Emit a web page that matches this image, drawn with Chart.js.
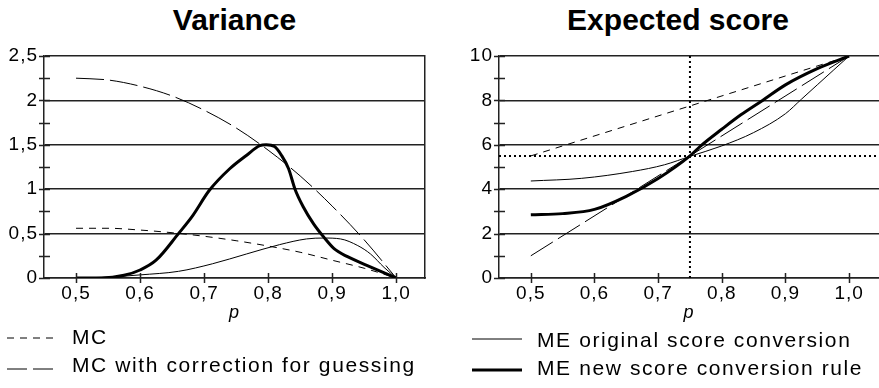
<!DOCTYPE html>
<html>
<head>
<meta charset="utf-8">
<script src="https://cdn.jsdelivr.net/npm/chart.js@4"></script>
<style>
  body { margin: 0; background: #fff; width: 879px; height: 388px; overflow: hidden; position: relative; font-family: "Liberation Sans", Arial, sans-serif; color: #000; }
  canvas { position: absolute; top: 0; }
  .title { position: absolute; top: 2px; font-size: 30px; font-weight: bold; line-height: 36px; text-align: center; }
  .leg { position: absolute; font-size: 21px; line-height: 26px; letter-spacing: 1.6px; white-space: nowrap; }
  svg { position: absolute; }
</style>
</head>
<body>
<div class="title" style="left:44px; width:381px;">Variance</div>
<div class="title" style="left:440px; width:476px;">Expected score</div>
<canvas id="varChart" width="440" height="326" style="left:0"></canvas>
<canvas id="scoreChart" width="439" height="326" style="left:440px"></canvas>

<svg style="left:0; top:320px" width="879" height="68">
  <line x1="7" y1="18" x2="53" y2="18" stroke="#000" stroke-width="1" stroke-dasharray="7,6"/>
  <line x1="7" y1="49" x2="53" y2="49" stroke="#000" stroke-width="1" stroke-dasharray="20,6"/>
  <line x1="472" y1="19" x2="522" y2="19" stroke="#000" stroke-width="1"/>
  <line x1="472" y1="50" x2="522" y2="50" stroke="#000" stroke-width="3"/>
</svg>
<div class="leg" style="left:72px; top:324px;">MC</div>
<div class="leg" style="left:72px; top:352px;">MC with correction for guessing</div>
<div class="leg" style="left:537px; top:327px;">ME original score conversion</div>
<div class="leg" style="left:537px; top:355px;">ME new score conversion rule</div>

<script>
// --- data ---
const xTicks = [0.5, 0.6, 0.7, 0.8, 0.9, 1.0];

// Variance panel
const varTicks = [0, 0.25, 0.5, 0.75, 1, 1.25, 1.5, 1.75, 2, 2.25, 2.5];
const varMajor = [0, 0.5, 1, 1.5, 2, 2.5];
const pVarMC = [0.5, 0.55, 0.6, 0.65, 0.7, 0.75, 0.8, 0.85, 0.9, 0.95, 1.0];
const varMC = [0.56, 0.56, 0.54, 0.51, 0.47, 0.42, 0.36, 0.29, 0.2, 0.11, 0];
const varMCcorr = [2.25, 2.23, 2.16, 2.05, 1.89, 1.69, 1.44, 1.15, 0.81, 0.43, 0];
const pVarMEorig = [0.5, 0.55, 0.6, 0.66, 0.713, 0.766, 0.818, 0.86, 0.887, 0.913, 0.94, 0.96, 0.981, 1.0];
const varMEorig = [0, 0.01, 0.035, 0.075, 0.16, 0.27, 0.376, 0.44, 0.45, 0.44, 0.365, 0.27, 0.12, 0];
const pVarMEnew = [0.5, 0.54, 0.575, 0.6, 0.625, 0.66, 0.682, 0.708, 0.74, 0.766, 0.787, 0.797, 0.81, 0.821, 0.832, 0.842, 0.855, 0.871, 0.887, 0.903, 0.924, 0.955, 1.0];
const varMEnew = [0, 0, 0.03, 0.09, 0.2, 0.5, 0.7, 0.985, 1.23, 1.38, 1.49, 1.5, 1.48, 1.38, 1.23, 1.0, 0.8, 0.61, 0.46, 0.33, 0.24, 0.14, 0];

// Expected score panel
const scoreTicks = [0, 1, 2, 3, 4, 5, 6, 7, 8, 9, 10];
const scoreMajor = [0, 2, 4, 6, 8, 10];
const pScoreMC = [0.5, 1.0];
const scoreMC = [5.5, 10];
const scoreMCcorr = [1.0, 10];
const pScoreMEorig = [0.5, 0.58, 0.66, 0.71, 0.75, 0.8, 0.85, 0.9, 0.925, 0.95, 0.975, 1.0];
const scoreMEorig = [4.37, 4.49, 4.8, 5.1, 5.48, 5.95, 6.55, 7.4, 8.05, 8.7, 9.35, 10];
const pScoreMEnew = [0.5, 0.55, 0.6, 0.65, 0.7, 0.75, 0.767, 0.8, 0.83, 0.864, 0.9, 0.95, 1.0];
const scoreMEnew = [2.85, 2.9, 3.09, 3.68, 4.48, 5.5, 5.95, 6.7, 7.35, 8.0, 8.7, 9.43, 10];
const refP = 0.75;       // dotted vertical
const refScore = 5.5;    // dotted horizontal

const INK = '#222';
const zip = (xs, ys) => xs.map((x, i) => ({x, y: ys[i]}));
const comma = v => String(v).replace('.', ',');

Chart.defaults.font.family = '"Liberation Sans", Arial, sans-serif';
Chart.defaults.font.size = 19;
Chart.defaults.color = '#000';

// tick marks that cross the axis line
const crossTicks = {
  id: 'crossTicks',
  beforeDraw(chart) { chart.ctx.letterSpacing = '1px'; },
  afterDraw(chart) {
    const ctx = chart.ctx, xs = chart.scales.x, ys = chart.scales.y;
    ctx.save();
    ctx.strokeStyle = INK; ctx.lineWidth = 1.5;
    ctx.beginPath();
    ys.ticks.forEach(t => {
      const py = Math.round(ys.getPixelForValue(t.value)) + 0.5;
      ctx.moveTo(ys.right - 5, py); ctx.lineTo(ys.right + 6, py);
    });
    xs.ticks.forEach(t => {
      const px = Math.round(xs.getPixelForValue(t.value)) + 0.5;
      ctx.moveTo(px, xs.top - 5); ctx.lineTo(px, xs.top + 5);
    });
    ctx.stroke();
    ctx.restore();
  }
};

function line(data, width, dash, mono) {
  return {
    data, borderColor: '#000', borderWidth: width, borderDash: dash,
    pointRadius: 0, fill: false,
    cubicInterpolationMode: mono ? 'monotone' : 'default', tension: 0
  };
}

function makeScales(xMax, yMin, yMax, yTickVals, yMajor, yWidth) {
  return {
    x: {
      type: 'linear', min: 0.45, max: xMax,
      afterBuildTicks: s => { s.ticks = xTicks.map(v => ({value: v})); },
      afterFit: s => { s.height = 48; },
      ticks: { callback: v => v.toFixed(1).replace('.', ','), padding: 4, autoSkip: false, maxRotation: 0 },
      grid: { drawOnChartArea: false, drawTicks: false },
      border: { color: INK, width: 1.5 },
      title: { display: true, text: 'p', font: { size: 18, style: 'italic' }, padding: { top: 0, bottom: 2 } }
    },
    y: {
      type: 'linear', min: yMin, max: yMax,
      afterBuildTicks: s => { s.ticks = yTickVals.map(v => ({value: v})); },
      afterFit: s => { s.width = yWidth; },
      ticks: { callback: v => yMajor.includes(v) ? comma(v) : '', padding: 6, autoSkip: false },
      grid: {
        drawTicks: false, lineWidth: 1.5,
        color: c => (c.tick && yMajor.includes(c.tick.value)) ? INK : 'rgba(0,0,0,0)'
      },
      border: { color: INK, width: 1.5 }
    }
  };
}

// left: Variance
const varScales = makeScales(1.045, 0, 2.5, varTicks, varMajor, 44);
varScales.y2 = {
  type: 'linear', position: 'right', min: 0, max: 2.5,
  afterFit: s => { s.width = 0; },
  ticks: { display: false },
  grid: { drawOnChartArea: false, drawTicks: false },
  border: { color: INK, width: 1.5 }
};
new Chart(document.getElementById('varChart'), {
  type: 'line',
  data: {
    datasets: [
      line(zip(pVarMEnew, varMEnew), 3, [], true),
      line(zip(pVarMEorig, varMEorig), 1, [], true),
      line(zip(pVarMC, varMCcorr), 1, [28, 6], true),
      line(zip(pVarMC, varMC), 1, [7, 6], true)
    ]
  },
  options: {
    responsive: false, animation: false,
    layout: { padding: { top: 56, right: 15, left: 0, bottom: 0 } },
    plugins: { legend: { display: false }, tooltip: { enabled: false } },
    scales: varScales
  },
  plugins: [crossTicks]
});

// right: Expected score
new Chart(document.getElementById('scoreChart'), {
  type: 'line',
  data: {
    datasets: [
      line(zip(pScoreMEnew, scoreMEnew), 3, [], true),
      line(zip(pScoreMEorig, scoreMEorig), 1, [], true),
      line(zip(pScoreMC, scoreMCcorr), 1, [26, 6], false),
      line(zip(pScoreMC, scoreMC), 1, [7, 6], false),
      line([{x: refP, y: 0}, {x: refP, y: 10}], 2, [2, 3], false),
      line([{x: 0.45, y: refScore}, {x: 1.047, y: refScore}], 2, [2, 3], false)
    ]
  },
  options: {
    responsive: false, animation: false,
    layout: { padding: { top: 56, right: 0, left: 0, bottom: 0 } },
    plugins: { legend: { display: false }, tooltip: { enabled: false } },
    scales: makeScales(1.047, 0, 10, scoreTicks, scoreMajor, 59)
  },
  plugins: [crossTicks]
});
</script>
</body>
</html>
